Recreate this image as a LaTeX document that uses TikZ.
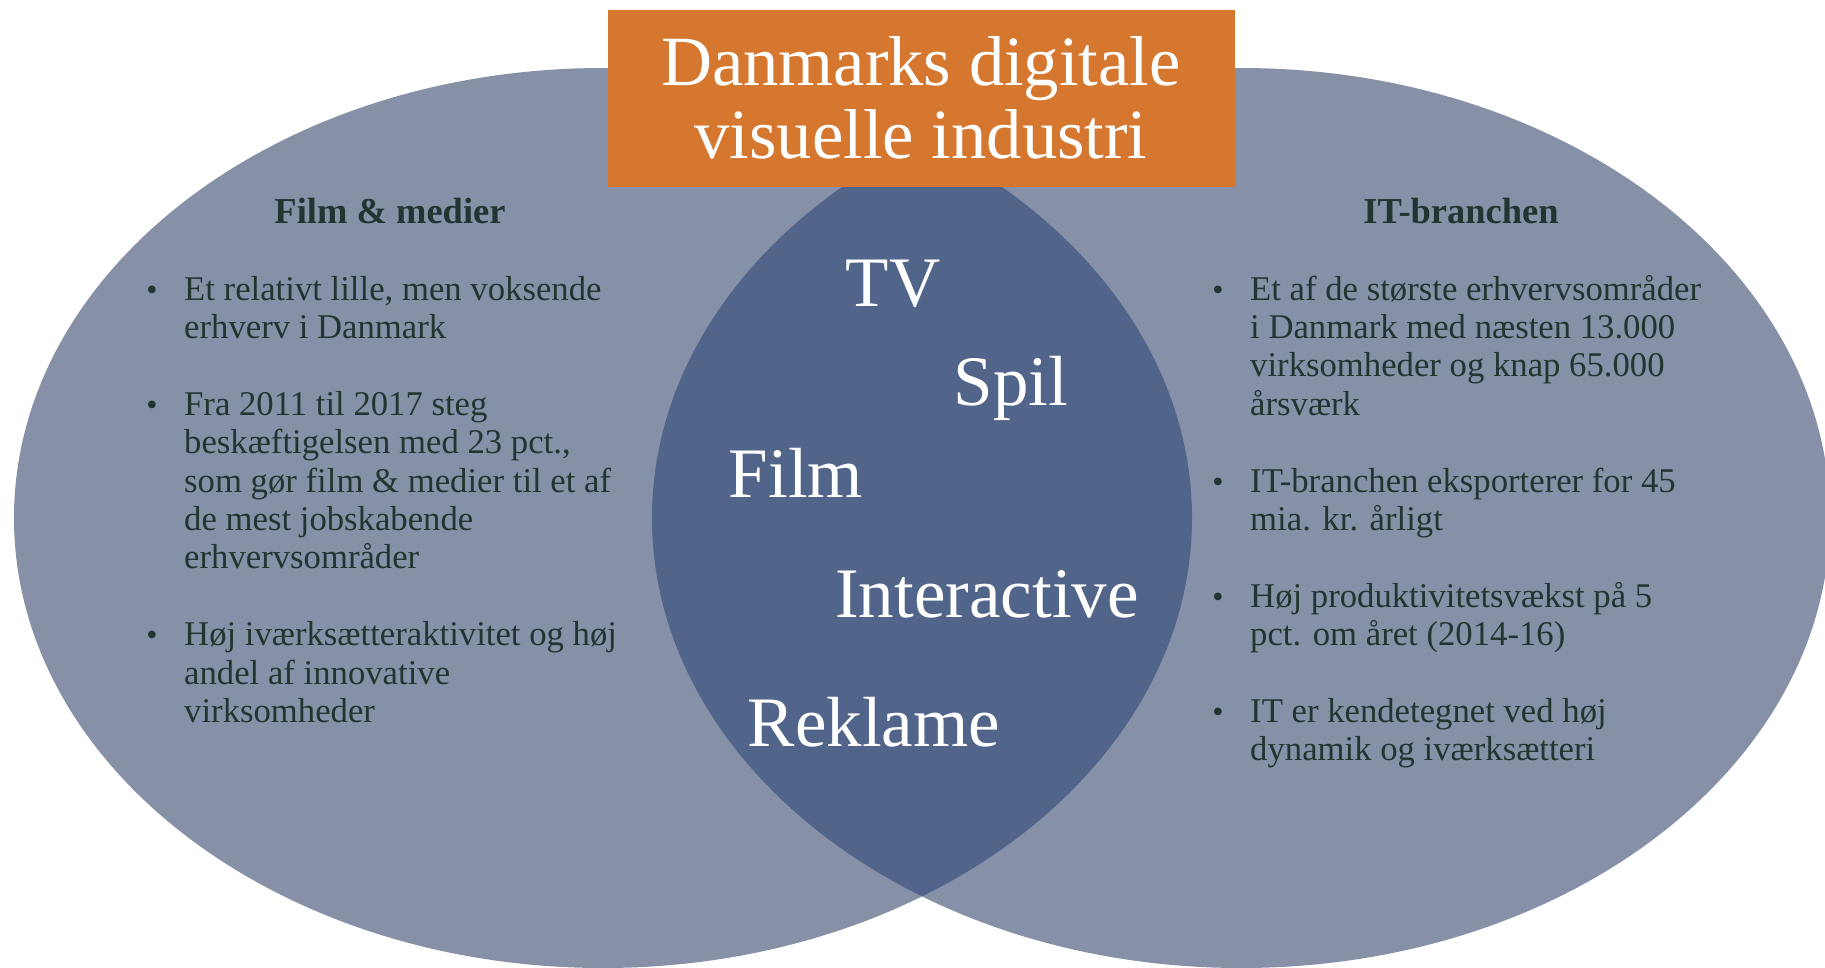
\documentclass[tikz,border=0pt]{standalone}
\usepackage{fontspec}
\setmainfont{Liberation Serif}

\definecolor{setgray}{HTML}{8691A8}
\definecolor{lensblue}{HTML}{51648A}
\definecolor{titleorange}{HTML}{D5772E}
\definecolor{textdark}{HTML}{233530}

\tikzset{
  titlebox/.style={fill=titleorange, text=white, inner sep=0pt, minimum width=627pt,
    minimum height=177pt, align=center, font=\fontsize{70.6}{73}\selectfont},
  headtext/.style={anchor=base, inner sep=0pt, text=textdark, font=\fontsize{36.5}{40}\selectfont\bfseries},
  bodytext/.style={anchor=base west, inner sep=0pt, text=textdark, font=\fontsize{34.7}{38}\selectfont},
  bulletdot/.style={anchor=base, inner sep=0pt, text=textdark, font=\fontsize{32}{36}\selectfont},
  bigword/.style={anchor=base, inner sep=0pt, text=white, font=\fontsize{71}{80}\selectfont},
}

\begin{document}
\begin{tikzpicture}[x=1pt,y=-1pt]
\useasboundingbox (0,0) rectangle (1825,967);
\fill[white] (0,0) rectangle (1825,967);

% the two sets and their overlap
\fill[setgray] (603,518) ellipse [x radius=589, y radius=450];
\fill[setgray] (1241,518) ellipse [x radius=589, y radius=450];
\begin{scope}
  \clip (603,518) ellipse [x radius=589, y radius=450];
  \fill[lensblue] (1241,518) ellipse [x radius=589, y radius=450];
\end{scope}

\node[titlebox] (title) at (921,98) {Danmarks digitale\\visuelle industri};

% left set
\node[headtext] (filmhead) at (390,223) {Film \& medier};
\foreach \k in {0,3,9}{
    \node[bulletdot] (filmdot-\k) at (152,{300+38.4*\k}) {\textbullet};
}
\foreach \k/\txt [count=\i] in {0/{Et relativt lille, men voksende}, 1/{erhverv i Danmark},
    3/{Fra 2011 til 2017 steg}, 4/{beskæftigelsen med 23 pct.,}, 5/{som gør film \& medier til et af},
    6/{de mest jobskabende}, 7/{erhvervsområder},
    9/{Høj iværksætteraktivitet og høj}, 10/{andel af innovative}, 11/{virksomheder}}{
    \node[bodytext] (film-\i) at (184,{300+38.4*\k}) {\txt};
}

% right set
\node[headtext] (ithead) at (1461,223) {IT-branchen};
\foreach \k in {0,5,8,11}{
    \node[bulletdot] (itdot-\k) at (1218,{300+38.4*\k}) {\textbullet};
}
\foreach \k/\txt [count=\i] in {0/{Et af de største erhvervsområder}, 1/{i Danmark med næsten 13.000},
    2/{virksomheder og knap 65.000}, 3/{årsværk},
    5/{IT-branchen eksporterer for 45}, 6/{mia. kr. årligt},
    8/{Høj produktivitetsvækst på 5}, 9/{pct. om året (2014-16)},
    11/{IT er kendetegnet ved høj}, 12/{dynamik og iværksætteri}}{
    \node[bodytext] (it-\i) at (1250,{300+38.4*\k}) {\txt};
}

% overlap
\node[bigword] (tv) at (893,306) {TV};
\node[bigword] (spil) at (1011,405) {Spil};
\node[bigword] (film) at (796,497) {Film};
\node[bigword] (interactive) at (987,617) {Interactive};
\node[bigword] (reklame) at (874,746) {Reklame};

\end{tikzpicture}
\end{document}
